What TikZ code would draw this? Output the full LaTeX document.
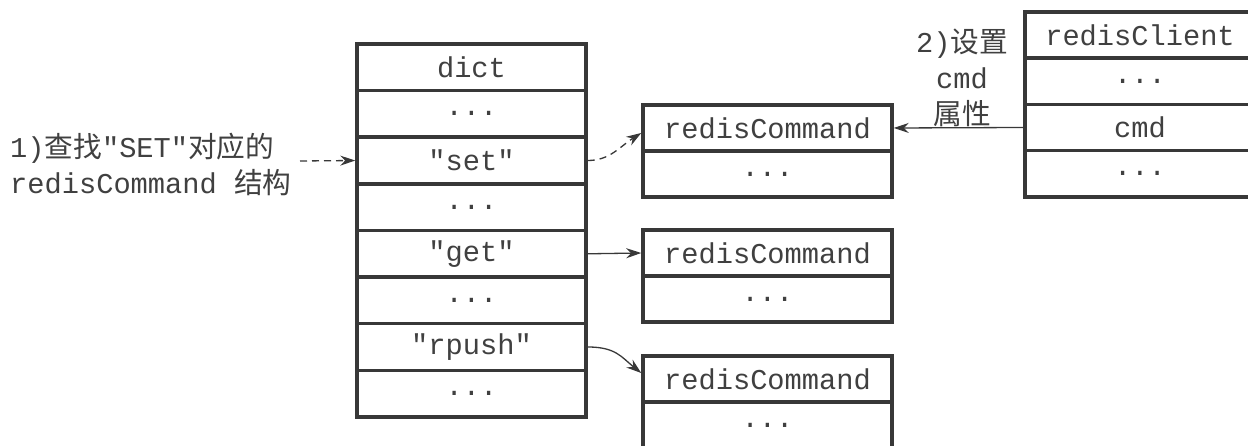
\documentclass[tikz,border=0pt]{standalone}
\usepackage{fontspec}
\setmainfont{Liberation Mono}
\setmonofont{Liberation Mono}
\newfontfamily\cjk{Noto Sans CJK SC}
\usetikzlibrary{arrows.meta}
\definecolor{ink}{HTML}{383838}
\definecolor{txt}{HTML}{404040}
\tikzset{
  cell/.style={draw=ink, line width=3.5pt, rectangle, inner sep=0pt, text=txt,
    font=\fontsize{28.7}{34}\selectfont\ttfamily},
  dictcell/.style={cell, minimum width=229pt, minimum height=46.6pt},
  cmdcell/.style={cell, minimum width=249pt, minimum height=46pt},
  clientcell/.style={cell, minimum width=230pt, minimum height=46.25pt},
  conn/.style={draw=ink, line width=1.3pt, -{Stealth[length=15pt,width=10pt]}},
  lbl/.style={text=txt, font=\fontsize{28.7}{36}\selectfont\ttfamily, inner sep=0pt}
}
\begin{document}
\begin{tikzpicture}[x=1pt,y=-1pt]
\fill[white] (0,0) rectangle (1248,446);
\clip (0,0) rectangle (1248,446);
\useasboundingbox (0,0) rectangle (1248,446);
% dict
\node[dictcell] (d1) at (471.5,67.3) {dict};
\node[dictcell] (d2) at (471.5,113.9) {...};
\node[dictcell] (d3) at (471.5,160.5) {"set"};
\node[dictcell] (d4) at (471.5,207.2) {...};
\node[dictcell] (d5) at (471.5,253.8) {"get"};
\node[dictcell] (d6) at (471.5,300.4) {...};
\node[dictcell] (d7) at (471.5,347.0) {"rpush"};
\node[dictcell] (d8) at (471.5,393.7) {...};
% redisCommand boxes
\node[cmdcell] (r1a) at (767.5,128) {redisCommand};
\node[cmdcell] (r1b) at (767.5,174) {...};
\node[cmdcell] (r2a) at (767.5,253) {redisCommand};
\node[cmdcell] (r2b) at (767.5,299) {...};
\node[cmdcell] (r3a) at (767.5,379) {redisCommand};
\node[cmdcell] (r3b) at (767.5,425) {...};
% redisClient
\node[clientcell] (c1) at (1140,35) {redisClient};
\node[clientcell] (c2) at (1140,81.25) {...};
\node[clientcell] (c3) at (1140,127.5) {cmd};
\node[clientcell] (c4) at (1140,173.75) {...};
% labels
\node[lbl, anchor=west, align=left] (l1) at (10,164) {1){\cjk 查找}"SET"{\cjk 对应的}\\redisCommand {\cjk 结构}};
\node[lbl, align=center] (l2) at (962,78) {2){\cjk 设置}\\cmd\\{\cjk 属性}};
\coordinate (s1) at (300,161);
% connectors
\draw[conn, dashed, dash pattern=on 7pt off 5pt] (s1) -- (d3.west);
\draw[conn, dashed, dash pattern=on 7pt off 5pt] (d3.east) .. controls +(22,0) and +(-22,14) .. ([yshift=-5pt]r1a.west);
\draw[conn] (d5.east) -- (r2a.west);
\draw[conn] (d7.east) .. controls +(28,0) and +(-20,-16) .. ([yshift=6pt]r3a.west);
\draw[conn] (c3.west) -- (r1a.east);
\end{tikzpicture}
\end{document}
